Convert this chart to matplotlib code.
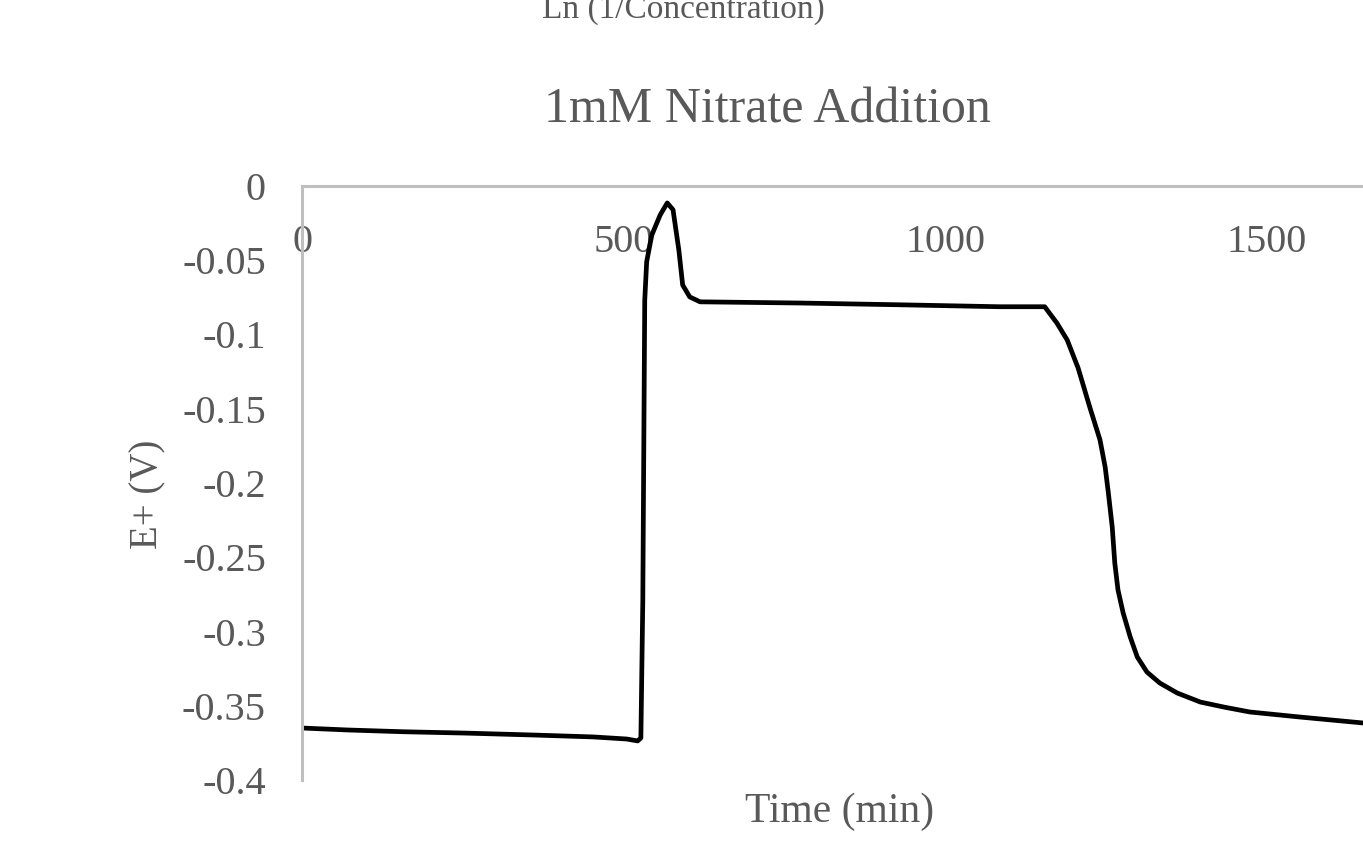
import numpy as np
import matplotlib.pyplot as plt

# electrode potential after 1 mM nitrate addition
time_min = [0, 70, 157, 253, 359, 453, 505, 522, 527, 530, 533, 536, 544, 557,
            568, 577, 586, 592, 603, 619, 775, 930, 1085, 1155, 1174, 1190, 1207,
            1225, 1241, 1249, 1254, 1260, 1264, 1269, 1277, 1288, 1299, 1314,
            1334, 1361, 1397, 1435, 1474, 1552, 1650]
e_plus = [-0.365, -0.3663, -0.3675, -0.3684, -0.3697, -0.371, -0.3724, -0.3737,
          -0.3717, -0.279, -0.077, -0.051, -0.033, -0.0195, -0.0114, -0.016,
          -0.043, -0.0667, -0.0747, -0.078, -0.0788, -0.080, -0.0813, -0.0813,
          -0.0923, -0.1037, -0.1226, -0.1488, -0.171, -0.1892, -0.2067,
          -0.2296, -0.2539, -0.2721, -0.2875, -0.3037, -0.3172, -0.3273, -0.3347,
          -0.3414, -0.3475, -0.351, -0.3542, -0.3576, -0.3616]

x_ticks = [0, 500, 1000, 1500]
y_ticks = [0, -0.05, -0.1, -0.15, -0.2, -0.25, -0.3, -0.35, -0.4]
y_tick_labels = ['0', '-0.05', '-0.1', '-0.15', '-0.2', '-0.25', '-0.3', '-0.35', '-0.4']

grey = '#595959'
plt.rcParams['font.family'] = ['Liberation Serif', 'DejaVu Serif']

W, H = 1363, 844
fig = plt.figure(figsize=(W / 100, H / 100), dpi=100)
ax = fig.add_axes([302 / W, 1 - 780 / H, 1 - 302 / W, (780 - 186) / H])

ax.plot(time_min, e_plus, color='black', lw=3.4, solid_joinstyle='round')

ax.set_xlim(0, 1650)
ax.set_ylim(-0.4, 0)
ax.set_xticks(x_ticks)
ax.set_yticks(y_ticks)
ax.set_yticklabels(y_tick_labels)

# x axis crosses at E = 0, so it sits along the top
ax.spines['bottom'].set_position(('data', 0))
ax.spines['top'].set_visible(False)
ax.spines['right'].set_visible(False)
for s in ['bottom', 'left']:
    ax.spines[s].set_color('#bfbfbf')
    ax.spines[s].set_linewidth(2.2)

ax.tick_params(axis='both', length=0, labelsize=29, colors=grey)
ax.tick_params(axis='x', pad=27)
ax.tick_params(axis='y', pad=26)
ax.set_zorder(1)

fig.text(767 / W, 1 - 110 / H, '1mM Nitrate Addition', fontsize=36, color=grey,
         ha='center', va='center')
fig.text(840 / W, 1 - 812 / H, 'Time (min)', fontsize=30, color=grey,
         ha='center', va='center')
fig.text(148 / W, 1 - 494 / H, 'E+ (V)', fontsize=28, color=grey,
         ha='center', va='center', rotation=90)
fig.text(683 / W, 1 - 18 / H, 'Ln (1/Concentration)', fontsize=24, color=grey,
         ha='center', va='baseline')

fig.savefig('out.png', dpi=100)
